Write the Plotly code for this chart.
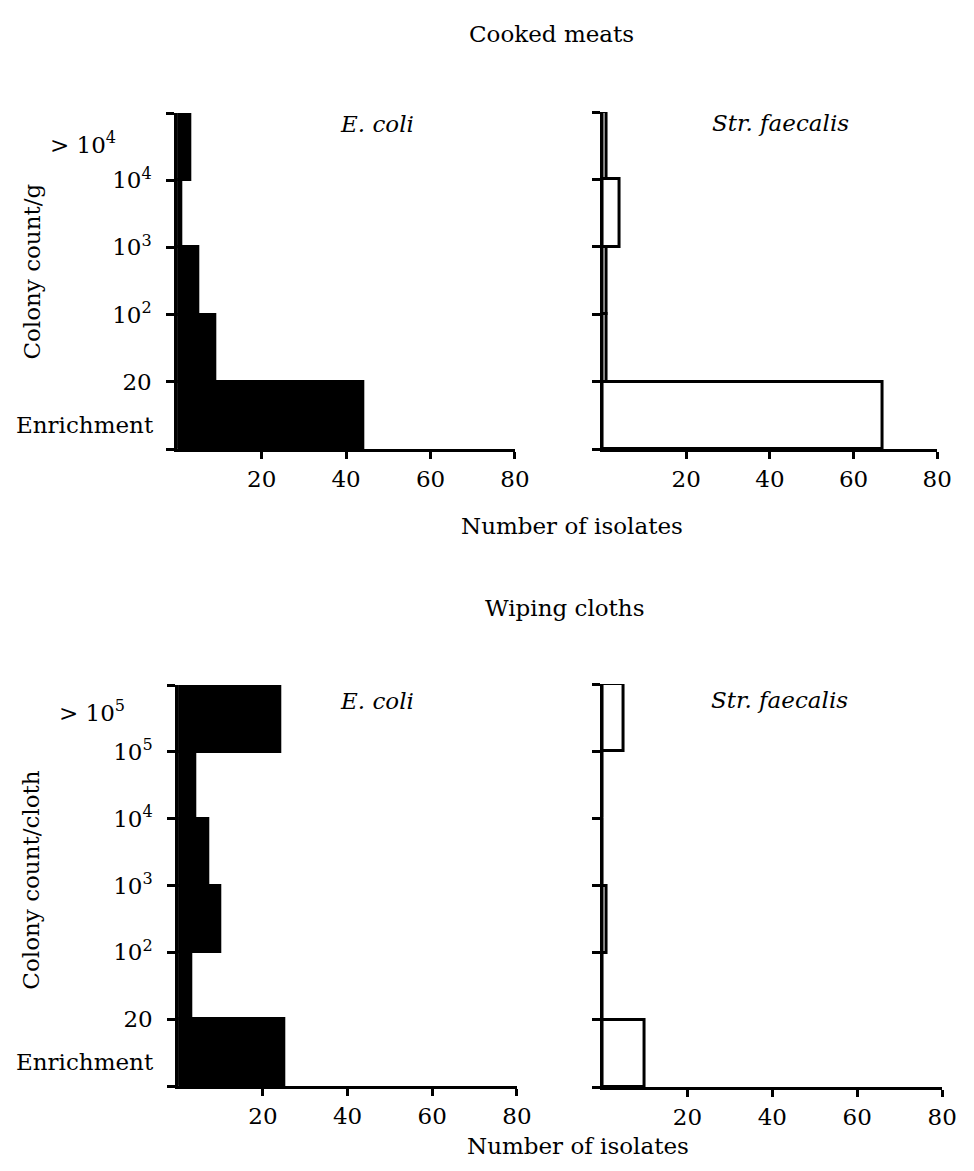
import plotly.graph_objects as go

# ---- data ----
meat_bands = ["Enrichment", "20-10²", "10²-10³", "10³-10⁴", ">10⁴"]
meat_ecoli = [44, 9, 5, 1, 3]
meat_strep = [67, 1, 1, 4, 1]
meat_ticktext = ["", "20", "10<sup>2</sup>", "10<sup>3</sup>", "10<sup>4</sup>", ""]
meat_top_label = "> 10<sup>4</sup>"

cloth_bands = ["Enrichment", "20-10²", "10²-10³", "10³-10⁴", "10⁴-10⁵", ">10⁵"]
cloth_ecoli = [25, 3, 10, 7, 4, 24]
cloth_strep = [10, 0, 1, 0, 0, 5]
cloth_ticktext = ["", "20", "10<sup>2</sup>", "10<sup>3</sup>", "10<sup>4</sup>", "10<sup>5</sup>", ""]
cloth_top_label = "> 10<sup>5</sup>"

x_ticks = [20, 40, 60, 80]

FONT = "DejaVu Serif"
FS = 23
OFF = 8                      # page body margin
W, H = 974 - 2 * OFF, 1171 - 2 * OFF

def fx(p):
    return (p - OFF) / W

def fy(p):
    return 1 - (p - OFF) / H

fig = go.Figure()

panels = [
    # xaxis, yaxis, bands, values, filled, x px (0..80), y px (top, bottom)
    ("x", "y", meat_bands, meat_ecoli, True, (180, 523), (113, 449)),
    ("x2", "y2", meat_bands, meat_strep, False, (612, 952), (112, 449)),
    ("x3", "y3", cloth_bands, cloth_ecoli, True, (181, 525), (685, 1086)),
    ("x4", "y4", cloth_bands, cloth_strep, False, (612, 957), (684, 1087)),
]

layout_axes = {}
for i, (xa, ya, bands, vals, filled, xd, yd) in enumerate(panels):
    n = len(bands)
    centers = [k + 0.5 for k in range(n)]
    fig.add_trace(go.Bar(
        x=vals, y=centers, orientation="h", width=1,
        marker=dict(color="black" if filled else "white",
                    line=dict(color="black", width=3)),
        xaxis=xa, yaxis=ya, showlegend=False,
        hovertext=bands, hoverinfo="text+x",
    ))
    xkey = "xaxis" if xa == "x" else "xaxis" + xa[1:]
    ykey = "yaxis" if ya == "y" else "yaxis" + ya[1:]
    ticktext = meat_ticktext if n == 5 else cloth_ticktext
    show_y_labels = (i % 2 == 0)
    layout_axes[xkey] = dict(
        domain=[fx(xd[0]), fx(xd[1])], anchor=ya, range=[0, 80],
        tickvals=x_ticks, ticktext=[str(v) for v in x_ticks],
        ticks="outside", ticklen=7, tickwidth=2.5, tickcolor="black",
        showline=True, linewidth=3, linecolor="black",
        showgrid=False, zeroline=False,
        tickfont=dict(family=FONT, size=FS, color="black"),
        ticklabelstandoff=0, fixedrange=True,
    )
    layout_axes[ykey] = dict(
        domain=[fy(yd[1]), fy(yd[0])], anchor=xa, range=[0, n],
        tickvals=list(range(0, n + 1)),
        ticktext=ticktext,
        showticklabels=show_y_labels,
        ticks="outside", ticklen=8, tickwidth=2.5, tickcolor="black",
        showline=True, linewidth=3, linecolor="black",
        showgrid=False, zeroline=False,
        tickfont=dict(family=FONT, size=FS, color="black"),
        ticklabelstandoff=10, fixedrange=True,
    )

fig.update_layout(**layout_axes)

ann = []
def txt(x, y, s, size=FS, italic=False, xanchor="center", angle=0):
    if italic:
        s = "<i>" + s + "</i>"
    ann.append(dict(x=fx(x), y=fy(y), xref="paper", yref="paper", text=s,
                    showarrow=False, xanchor=xanchor, yanchor="middle",
                    textangle=angle,
                    font=dict(family=FONT, size=size, color="black")))

# titles
txt(560, 34, "Cooked meats")
txt(581, 526, "Number of isolates")
txt(573, 608, "Wiping cloths")
txt(587, 1146, "Number of isolates")
# panel labels
txt(383, 124, "E. coli", italic=True)
txt(793, 123, "Str. faecalis", italic=True)
txt(383, 701, "E. coli", italic=True)
txt(792, 700, "Str. faecalis", italic=True)
# y-axis titles
txt(32, 272, "Colony count/g", angle=-90)
txt(31, 880, "Colony count/cloth", angle=-90)
# band labels without tick marks
txt(158, 425, meat_bands[0], xanchor="right")
txt(120, 143, meat_top_label, xanchor="right")
txt(158, 1062, cloth_bands[0], xanchor="right")
txt(129, 711, cloth_top_label, xanchor="right")

fig.update_layout(
    annotations=ann,
    width=W, height=H,
    margin=dict(l=0, r=0, t=0, b=0),
    paper_bgcolor="white", plot_bgcolor="white",
    bargap=0, barmode="overlay",
    showlegend=False,
)

fig.write_html("out.html")
